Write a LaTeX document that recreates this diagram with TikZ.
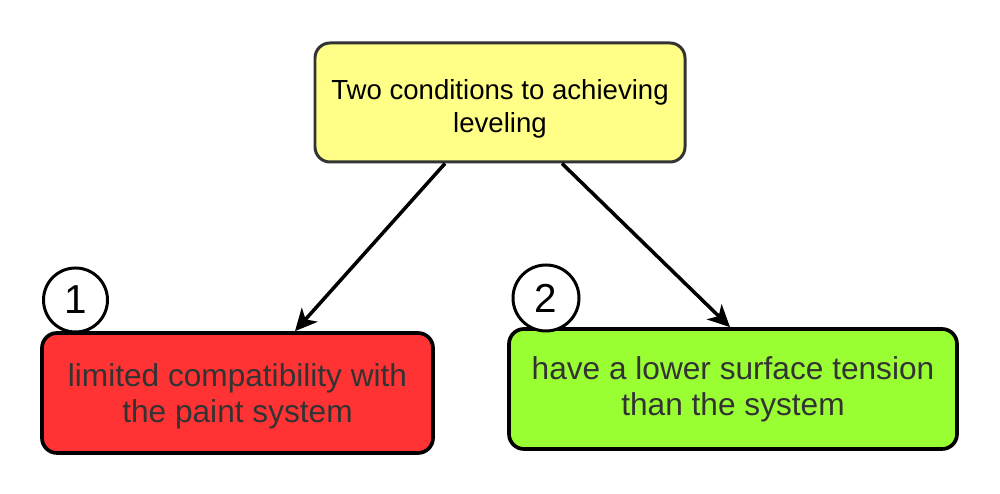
\documentclass[tikz,border=0pt]{standalone}
\usepackage{fontspec}
\setmainfont{Liberation Sans}
\usetikzlibrary{arrows.meta}
\definecolor{boxyellow}{HTML}{FFFF88}
\definecolor{boxred}{HTML}{FF3333}
\definecolor{boxgreen}{HTML}{99FF33}
\definecolor{textgray}{HTML}{333333}

\begin{document}
\begin{tikzpicture}[
    box/.style = {draw=black, line width=2.1pt, rounded corners=0.3cm,
      align=center, text=textgray, font=\fontsize{18}{20.5}\selectfont},
    numcircle/.style = {draw=black, line width=1.7pt, circle, fill=white,
      inner sep=0pt, font=\fontsize{23}{23}\selectfont},
    link/.style = {line width=2pt, -{Stealth[length=12.5pt, width=12pt, inset=3.5pt]}}
  ]
    \useasboundingbox (0,0) rectangle (20,9.88);

    % the main condition
    \node[box, draw=textgray, line width=1.7pt, fill=boxyellow, text=black,
      minimum width=7.4cm, minimum height=2.38cm,
      font=\fontsize{15.7}{19}\selectfont] (top) at (10,7.83)
      {\rule{0pt}{18.5pt}Two conditions to achieving\\leveling};

    % the two conditions
    \node[box, fill=boxred, minimum width=7.82cm, minimum height=2.4cm] (red)
      at (4.75,2.02) {\rule{0pt}{17pt}limited compatibility with\\the paint system};
    \node[box, fill=boxgreen, minimum width=8.96cm, minimum height=2.4cm] (green)
      at (14.66,2.1) {have a lower surface tension\\than the system};

    % numbers
    \node[numcircle, minimum size=1.28cm] (one) at (1.51,3.88) {1};
    \node[numcircle, minimum size=1.32cm] (two) at (10.92,3.92) {2};

    % arrows
    \draw[link] ([xshift=-1.1cm]top.south) -- ([xshift=1.15cm]red.north);
    \draw[link] ([xshift=1.24cm]top.south) -- ([xshift=-0.06cm]green.north);
\end{tikzpicture}
\end{document}
